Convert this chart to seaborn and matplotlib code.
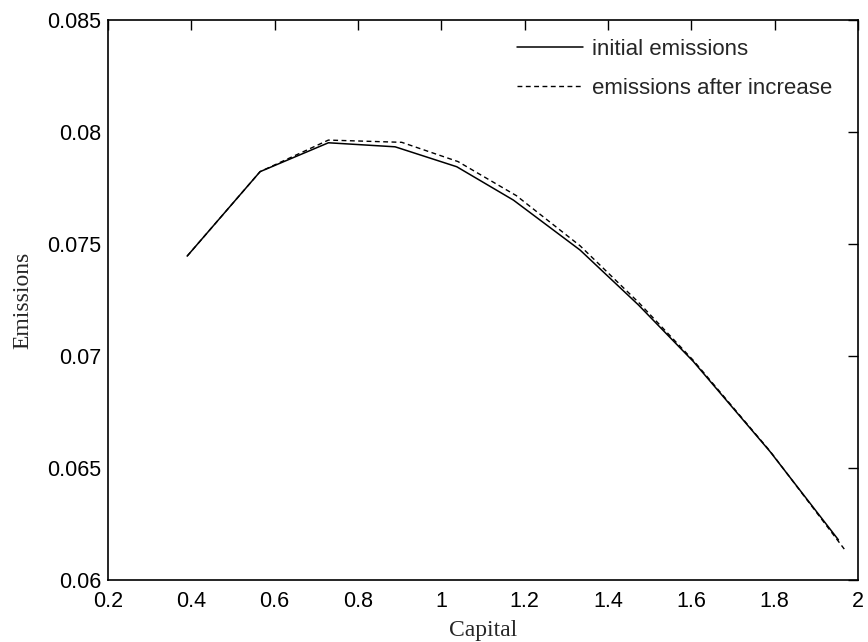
import pandas as pd
import matplotlib
matplotlib.use("Agg")
import matplotlib.pyplot as plt
import seaborn as sns

# data
capital_initial = [0.39, 0.565, 0.729, 0.889, 1.037, 1.173, 1.333, 1.473, 1.605, 1.789, 1.953]
emissions_initial = [0.07446, 0.07823, 0.07952, 0.07934, 0.07845, 0.07696, 0.07473, 0.07228, 0.06975, 0.06573, 0.06179]

capital_after = [0.39, 0.565, 0.729, 0.905, 1.04, 1.18, 1.333, 1.473, 1.605, 1.789, 1.967]
emissions_after = [0.07446, 0.07823, 0.07964, 0.07954, 0.07868, 0.07716, 0.07492, 0.07240, 0.06980, 0.06575, 0.06138]

sns.set_style("white")
plt.rcParams['font.family'] = ['Liberation Sans', 'DejaVu Sans']

fig = plt.figure(figsize=(8.68, 6.42), dpi=100)
ax = fig.add_axes([0.1244, 0.0966, 0.8641, 0.8722])

sns.lineplot(x=capital_initial, y=emissions_initial, sort=False, color="black",
             linewidth=1.1, ax=ax, label="initial emissions")
sns.lineplot(x=capital_after, y=emissions_after, sort=False, color="black",
             linewidth=1.0, ax=ax, label="emissions after increase")
ax.lines[1].set_dashes((3.5, 2.5))

ax.set_xlim(0.2, 2)
ax.set_ylim(0.06, 0.085)
ax.set_xticks([0.2, 0.4, 0.6, 0.8, 1, 1.2, 1.4, 1.6, 1.8, 2])
ax.set_xticklabels(["0.2", "0.4", "0.6", "0.8", "1", "1.2", "1.4", "1.6", "1.8", "2"])
ax.set_yticks([0.06, 0.065, 0.07, 0.075, 0.08, 0.085])
ax.set_yticklabels(["0.06", "0.065", "0.07", "0.075", "0.08", "0.085"])
ax.tick_params(direction="in", length=7, width=1, labelsize=15.5, colors="black",
               top=True, right=True)
ax.tick_params(axis="x", pad=8)
ax.tick_params(axis="y", pad=5)

for s in ax.spines.values():
    s.set_visible(True)
    s.set_color("black")
    s.set_linewidth(1.2)

ax.set_xlabel("Capital", fontsize=17, family="Liberation Serif", labelpad=6)
ax.set_ylabel("Emissions", fontsize=17, family="Liberation Serif", labelpad=10)

ax.legend(loc="upper left", bbox_to_anchor=(0.545, 0.966), frameon=False,
          fontsize=16, handlelength=3.0, handletextpad=0.4, labelspacing=0.8,
          borderpad=0, borderaxespad=0)

fig.savefig("out.png", dpi=100)
